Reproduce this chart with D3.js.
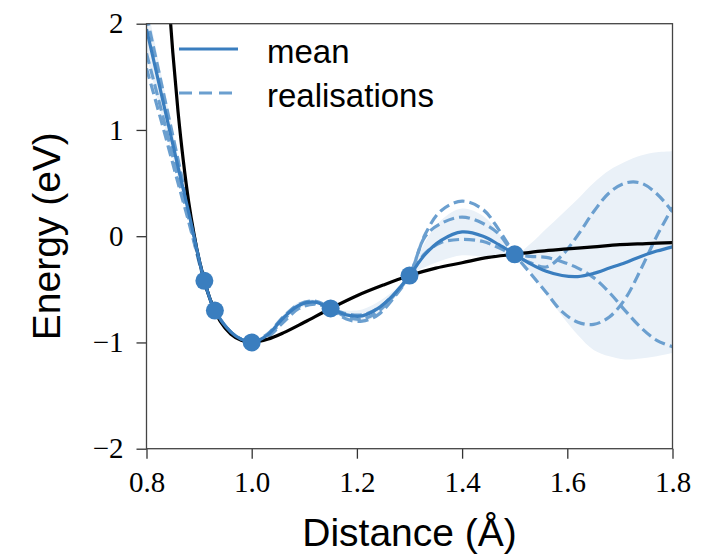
<!DOCTYPE html>
<html>
<head>
<meta charset="utf-8">
<script src="https://cdn.jsdelivr.net/npm/d3@7"></script>
<style>
  html, body { margin: 0; padding: 0; background: #fff; }
</style>
</head>
<body>
<div id="chart"></div>
<script>
// reference potential (black)
const trueX = [0.84, 0.85, 0.86, 0.87, 0.88, 0.89, 0.90, 0.92, 0.94, 0.96, 0.98, 1.00, 1.03, 1.06, 1.10, 1.15, 1.20, 1.25, 1.30, 1.35, 1.40, 1.45, 1.50, 1.55, 1.60, 1.65, 1.70, 1.75, 1.80];
const trueY = [2.41, 1.73, 1.17, 0.71, 0.33, 0.03, -0.22, -0.58, -0.80, -0.92, -0.98, -1.00, -0.97, -0.91, -0.81, -0.68, -0.56, -0.46, -0.37, -0.30, -0.25, -0.20, -0.17, -0.14, -0.12, -0.10, -0.08, -0.07, -0.06];

// training points
const obsX = [0.91, 0.93, 1.00, 1.15, 1.30, 1.50];
const obsY = [-0.42, -0.70, -1.00, -0.68, -0.37, -0.17];

// shared grid for mean / band / realisations
const gridX = [0.80, 0.83, 0.86, 0.88, 0.91, 0.93, 0.96, 0.98, 1.00, 1.03, 1.06, 1.09, 1.12, 1.15, 1.18, 1.21, 1.24, 1.27, 1.30, 1.33, 1.36, 1.40, 1.44, 1.47, 1.50, 1.53, 1.56, 1.59, 1.62, 1.65, 1.68, 1.71, 1.74, 1.77, 1.80];
const meanY = [1.95, 1.30, 0.65, 0.23, -0.42, -0.70, -0.90, -0.97, -1.00, -0.93, -0.77, -0.65, -0.62, -0.68, -0.74, -0.75, -0.68, -0.55, -0.37, -0.17, -0.04, 0.04, 0.00, -0.08, -0.17, -0.26, -0.33, -0.37, -0.38, -0.35, -0.30, -0.25, -0.19, -0.14, -0.10];
const bandLo = [1.70, 1.12, 0.55, 0.18, -0.42, -0.70, -0.91, -0.98, -1.00, -0.95, -0.80, -0.68, -0.64, -0.68, -0.78, -0.81, -0.74, -0.59, -0.37, -0.29, -0.23, -0.18, -0.19, -0.19, -0.17, -0.34, -0.55, -0.75, -0.93, -1.07, -1.13, -1.16, -1.15, -1.13, -1.10];
const bandHi = [2.20, 1.48, 0.75, 0.28, -0.42, -0.70, -0.89, -0.96, -1.00, -0.91, -0.74, -0.62, -0.60, -0.68, -0.70, -0.69, -0.62, -0.51, -0.37, -0.05, 0.15, 0.26, 0.19, 0.03, -0.17, -0.07, 0.07, 0.21, 0.35, 0.50, 0.62, 0.70, 0.76, 0.79, 0.80];
const real1 = [2.08, 1.40, 0.72, 0.26, -0.42, -0.70, -0.90, -0.97, -1.00, -0.92, -0.76, -0.64, -0.61, -0.68, -0.78, -0.80, -0.74, -0.58, -0.37, 0.02, 0.24, 0.33, 0.25, 0.06, -0.17, -0.35, -0.53, -0.71, -0.81, -0.83, -0.76, -0.59, -0.31, 0.00, 0.27];
const real2 = [1.72, 1.15, 0.55, 0.17, -0.42, -0.70, -0.90, -0.97, -1.00, -0.94, -0.79, -0.66, -0.63, -0.68, -0.76, -0.78, -0.71, -0.56, -0.37, 0.00, 0.12, 0.18, 0.12, 0.02, -0.17, -0.25, -0.29, -0.18, 0.01, 0.23, 0.41, 0.50, 0.50, 0.40, 0.23];
const real3 = [1.58, 1.05, 0.50, 0.14, -0.42, -0.70, -0.90, -0.97, -1.00, -0.95, -0.81, -0.68, -0.64, -0.68, -0.73, -0.74, -0.68, -0.55, -0.37, -0.16, -0.06, -0.03, -0.05, -0.11, -0.17, -0.19, -0.20, -0.24, -0.30, -0.39, -0.53, -0.70, -0.86, -0.98, -1.04];
const realisations = [real1, real2, real3];

const xTicks = [0.8, 1.0, 1.2, 1.4, 1.6, 1.8];
const yTicks = [-2, -1, 0, 1, 2];

const width = 720;
const height = 554;
const margin = { top: 23.7, right: 47.5, bottom: 105.3, left: 146.5 };

const blue = "#3a7ebf";
const lightBlue = "#6b9fcf";
const bandFill = "#eaf1f8";
const lw = 3.2;

const x = d3.scaleLinear().domain([0.8, 1.8]).range([margin.left, width - margin.right]);
const y = d3.scaleLinear().domain([-2, 2]).range([height - margin.bottom, margin.top]);

const svg = d3.select("#chart").append("svg")
   .attr("width", width)
   .attr("height", height)
   .attr("viewBox", [0, 0, width, height]);

svg.append("clipPath")
   .attr("id", "plot_clip")
   .append("rect")
   .attr("x", margin.left)
   .attr("y", margin.top)
   .attr("width", width - margin.left - margin.right)
   .attr("height", height - margin.top - margin.bottom);

const plot = svg.append("g").attr("clip-path", "url(#plot_clip)");

// uncertainty band
const area = d3.area()
   .curve(d3.curveCatmullRom.alpha(0.5))
   .x((d, i) => x(gridX[i]))
   .y0((d, i) => y(bandLo[i]))
   .y1((d, i) => y(bandHi[i]));

plot.append("path")
   .datum(gridX)
   .attr("fill", bandFill)
   .attr("d", area);

const line = d3.line()
   .curve(d3.curveCatmullRom.alpha(0.5))
   .x(d => x(d[0]))
   .y(d => y(d[1]));

// realisations
plot.append("g")
   .selectAll("path")
   .data(realisations)
   .join("path")
   .attr("fill", "none")
   .attr("stroke", lightBlue)
   .attr("stroke-width", lw)
   .attr("stroke-dasharray", "11,5")
   .attr("d", r => line(gridX.map((v, i) => [v, r[i]])));

// reference
plot.append("path")
   .attr("fill", "none")
   .attr("stroke", "#000")
   .attr("stroke-width", lw)
   .attr("d", line(trueX.map((v, i) => [v, trueY[i]])));

// mean
plot.append("path")
   .attr("fill", "none")
   .attr("stroke", blue)
   .attr("stroke-width", lw)
   .attr("d", line(gridX.map((v, i) => [v, meanY[i]])));

// training points
plot.append("g")
   .selectAll("circle")
   .data(obsX)
   .join("circle")
   .attr("cx", d => x(d))
   .attr("cy", (d, i) => y(obsY[i]))
   .attr("r", 9)
   .attr("fill", blue);

// axes
const xAxis = g => g
   .attr("transform", `translate(0,${height - margin.bottom})`)
   .style("font-family", "'Liberation Serif', serif")
   .style("font-size", "29px")
   .call(d3.axisBottom(x).tickValues(xTicks).tickFormat(d3.format(".1f")).tickSize(10).tickPadding(13).tickSizeOuter(0))
   .call(g => g.select(".domain").remove())
   .call(g => g.selectAll(".tick line").attr("stroke", "#333").attr("stroke-width", 1.3))
   .call(g => g.selectAll(".tick text").attr("fill", "#000"));

const yAxis = g => g
   .attr("transform", `translate(${margin.left},0)`)
   .style("font-family", "'Liberation Serif', serif")
   .style("font-size", "29px")
   .call(d3.axisLeft(y).tickValues(yTicks).tickFormat(d3.format("d")).tickSize(10).tickPadding(13).tickSizeOuter(0))
   .call(g => g.select(".domain").remove())
   .call(g => g.selectAll(".tick line").attr("stroke", "#333").attr("stroke-width", 1.3))
   .call(g => g.selectAll(".tick text").attr("fill", "#000"));

svg.append("g").attr("class", "x-axis").call(xAxis);
svg.append("g").attr("class", "y-axis").call(yAxis);

// frame
svg.append("rect")
   .attr("x", margin.left)
   .attr("y", margin.top)
   .attr("width", width - margin.left - margin.right)
   .attr("height", height - margin.top - margin.bottom)
   .attr("fill", "none")
   .attr("stroke", "#444")
   .attr("stroke-width", 1.3);

// axis labels
svg.append("text")
   .attr("x", (margin.left + width - margin.right) / 2)
   .attr("y", 546)
   .attr("text-anchor", "middle")
   .style("font-family", "'Liberation Sans', sans-serif")
   .style("font-size", "39px")
   .text("Distance (Å)");

svg.append("text")
   .attr("transform", `translate(60,${(margin.top + height - margin.bottom) / 2}) rotate(-90)`)
   .attr("text-anchor", "middle")
   .style("font-family", "'Liberation Sans', sans-serif")
   .style("font-size", "39px")
   .text("Energy (eV)");

// legend
const legendItems = [
   { label: "mean", dash: null, color: blue, y: 49 },
   { label: "realisations", dash: "13,7", color: lightBlue, y: 93 }
];

const legend = svg.append("g");
legend.selectAll("line")
   .data(legendItems)
   .join("line")
   .attr("x1", 179)
   .attr("x2", 238)
   .attr("y1", d => d.y)
   .attr("y2", d => d.y)
   .attr("stroke", d => d.color)
   .attr("stroke-width", lw)
   .attr("stroke-dasharray", d => d.dash);

legend.selectAll("text")
   .data(legendItems)
   .join("text")
   .attr("x", 267)
   .attr("y", d => d.y + 13.5)
   .style("font-family", "'Liberation Sans', sans-serif")
   .style("font-size", "33px")
   .text(d => d.label);
</script>
</body>
</html>
